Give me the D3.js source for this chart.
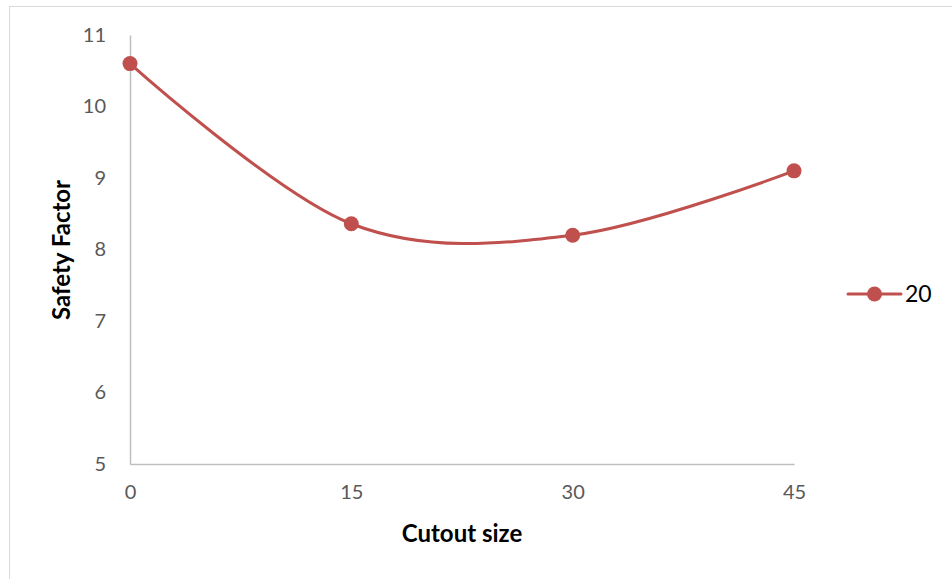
<!DOCTYPE html>
<html>
<head>
<meta charset="utf-8">
<script src="https://cdn.jsdelivr.net/npm/d3@7"></script>
<style>
  html, body { margin: 0; padding: 0; background: #fff; }
  svg { display: block; font-family: Lato, "Open Sans", "Liberation Sans", sans-serif; }
</style>
</head>
<body>
<svg id="chart" width="952" height="579"></svg>
<script>
const categories = ["0", "15", "30", "45"];
const values = [10.6, 8.36, 8.2, 9.1];
const seriesName = "20";
const yTicks = [5, 6, 7, 8, 9, 10, 11];
const xTitle = "Cutout size";
const yTitle = "Safety Factor";

(function () {
const svg = d3.select("#chart");
const color = "#C0504D";

// outer chart border
svg.append("rect")
  .attr("x", 9.5).attr("y", 6.5)
  .attr("width", 960).attr("height", 600)
  .attr("fill", "#fff").attr("stroke", "#d9d9d9").attr("stroke-width", 1);

const mLeft = 130, mRight = 794, mTop = 35, mBottom = 464;

const x = d3.scalePoint().domain(categories).range([mLeft, mRight]);
const y = d3.scaleLinear().domain([5, 11]).range([mBottom, mTop]);

// y axis
const yAxis = svg.append("g").attr("transform", `translate(${mLeft},0)`)
  .call(d3.axisLeft(y).tickValues(yTicks).tickFormat(d3.format("d")).tickSize(0).tickPadding(24));
yAxis.select(".domain").attr("stroke", "#bfbfbf").attr("stroke-width", 1.5);
yAxis.selectAll("text").attr("font-size", 20).attr("fill", "#595959")
  .attr("font-family", "Lato, 'Open Sans', sans-serif");

// x axis
const xAxis = svg.append("g").attr("transform", `translate(0,${mBottom})`)
  .call(d3.axisBottom(x).tickSize(0).tickPadding(21));
xAxis.select(".domain").attr("stroke", "#bfbfbf").attr("stroke-width", 1.5);
xAxis.selectAll("text").attr("font-size", 20).attr("fill", "#595959")
  .attr("font-family", "Lato, 'Open Sans', sans-serif");

// line
const line = d3.line()
  .x((d, i) => x(categories[i]))
  .y(d => y(d))
  .curve(d3.curveCardinal.tension(0));

svg.append("path").datum(values)
  .attr("d", line)
  .attr("fill", "none").attr("stroke", color).attr("stroke-width", 3)
  .attr("stroke-linecap", "round");

svg.selectAll("circle.pt").data(values).enter().append("circle")
  .attr("class", "pt")
  .attr("cx", (d, i) => x(categories[i]))
  .attr("cy", d => y(d))
  .attr("r", 7.5)
  .attr("fill", color);

// axis titles
svg.append("text")
  .attr("x", 462).attr("y", 542)
  .attr("text-anchor", "middle")
  .attr("font-size", 24).attr("font-weight", "bold").attr("fill", "#000")
  .text(xTitle);

svg.append("text")
  .attr("transform", "translate(70,250) rotate(-90)")
  .attr("text-anchor", "middle")
  .attr("font-size", 24).attr("font-weight", "bold").attr("fill", "#000")
  .text(yTitle);

// legend
const lg = svg.append("g").attr("transform", "translate(848,294)");
lg.append("line").attr("x1", 0).attr("x2", 53).attr("y1", 0).attr("y2", 0)
  .attr("stroke", color).attr("stroke-width", 3).attr("stroke-linecap", "round");
lg.append("circle").attr("cx", 26.5).attr("cy", 0).attr("r", 7.5).attr("fill", color);
lg.append("text").attr("x", 57).attr("y", 0).attr("dy", "0.35em")
  .attr("font-size", 23).attr("fill", "#000").text(seriesName);
})();
</script>
</body>
</html>
